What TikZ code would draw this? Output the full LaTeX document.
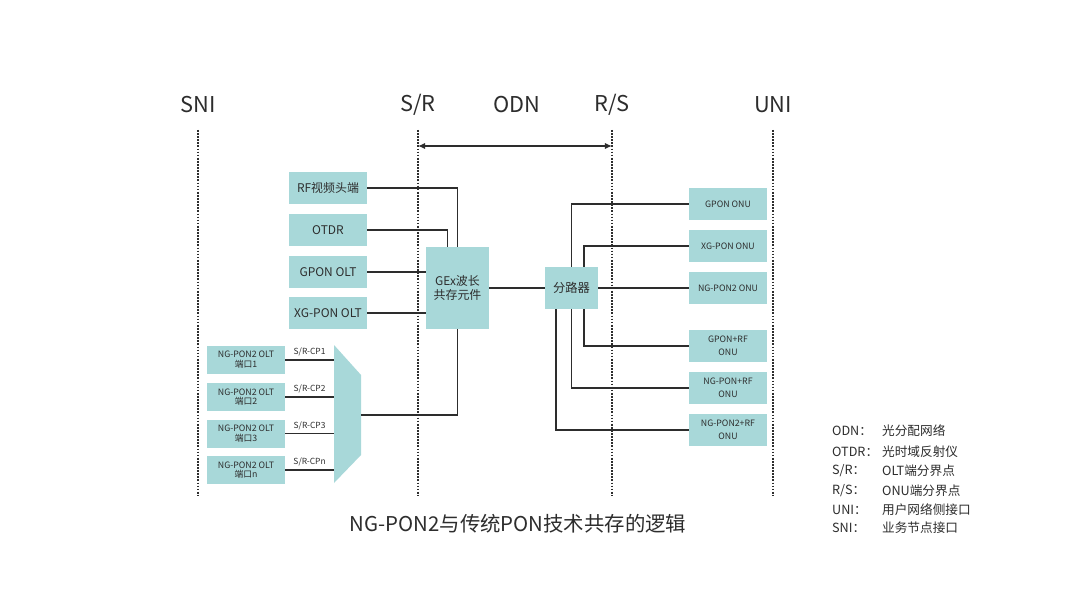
\documentclass[tikz,border=0pt]{standalone}
\usepackage{fontspec}
\setmainfont{Noto Sans CJK SC}
\usetikzlibrary{positioning,arrows.meta,calc}
\definecolor{boxteal}{RGB}{168,216,217}
\definecolor{inkgray}{RGB}{45,45,45}

\begin{document}
\begin{tikzpicture}[x=0.5mm,y=-0.5mm,>={Latex[length=10pt,width=9pt]},
  every node/.style={text=inkgray,inner sep=0pt},
  link/.style={draw=inkgray,line width=2.8pt},
  refline/.style={draw=inkgray,line width=2.4pt,dash pattern=on 2.4pt off 2pt},
  olt/.style={fill=boxteal,minimum width=39mm,minimum height=16mm,font=\fontsize{17}{20}\selectfont},
  port/.style={fill=boxteal,minimum width=39mm,minimum height=14mm,align=center,font=\fontsize{12.5}{14}\selectfont},
  onu/.style={fill=boxteal,minimum width=39mm,minimum height=16mm,align=center,font=\fontsize{12.5}{18}\selectfont},
  hdr/.style={font=\fontsize{31}{36}\selectfont},
  cplabel/.style={font=\fontsize{12}{14}\selectfont},
  legend/.style={anchor=west,font=\fontsize{18}{20}\selectfont}]
  \fill[white] (0,0) rectangle (1080,608);
  \useasboundingbox (0,0) rectangle (1080,608);
  % reference points
  \node[hdr] (sni) at (198,105) {SNI};
  \node[hdr] (sr) at (418,105) {S/R};
  \node[hdr] (odn) at (517,105) {ODN};
  \node[hdr] (rs) at (612,105) {R/S};
  \node[hdr] (uni) at (773,105) {UNI};
  \draw[refline] (198,130) -- (198,495);
  \draw[refline] (418,130) -- (418,495);
  \draw[refline] (612,130) -- (612,495);
  \draw[refline] (773,130) -- (773,495);
  \coordinate (odnl) at (418,146); \coordinate (odnr) at (612,146);
  \draw[link,<->] (odnl) -- (odnr);
  % OLT side
  \node[olt] (rfhead) at (328,188) {RF视频头端};
  \node[olt] (otdr) at (328,230) {OTDR};
  \node[olt] (gpon) at (328,272) {GPON OLT};
  \node[olt] (xgpon) at (328,313) {XG-PON OLT};
  \node[fill=boxteal,minimum width=31.5mm,minimum height=41mm,align=center,
        font=\fontsize{17}{21}\selectfont] (gex) at (457.5,288) {GEx波长\\共存元件};
  \draw[link] (rfhead.east) -| (gex.north);
  \draw[link] (otdr.east) -| ($(gex.north)+(-10,0)$);
  \draw[link] (gpon.east) -- (gpon.east -| gex.west);
  \draw[link] (xgpon.east) -- (xgpon.east -| gex.west);
  % NG-PON2 ports and mux
  \node[port] (ng1) at (246,360) {NG-PON2 OLT\\端口1};
  \node[port] (ng2) at (246,397) {NG-PON2 OLT\\端口2};
  \node[port] (ng3) at (246,433.5) {NG-PON2 OLT\\端口3};
  \node[port] (ngn) at (246,470) {NG-PON2 OLT\\端口n};
  \fill[boxteal] (334,345) -- (361,375) -- (361,455) -- (334,483) -- cycle;
  \coordinate (muxin) at (334,415); \coordinate (muxout) at (361,415);
  \draw[link] (ng1.east) -- (ng1.east -| muxin) node[cplabel,midway,above=1.3mm] {S/R-CP1};
  \draw[link] (ng2.east) -- (ng2.east -| muxin) node[cplabel,midway,above=1.3mm] {S/R-CP2};
  \draw[link] (ng3.east) -- (ng3.east -| muxin) node[cplabel,midway,above=1.3mm] {S/R-CP3};
  \draw[link] (ngn.east) -- (ngn.east -| muxin) node[cplabel,midway,above=1.3mm] {S/R-CPn};
  \draw[link] (gex.south) |- (muxout);
  % splitter and ONUs
  \node[fill=boxteal,minimum width=26.5mm,minimum height=21mm,
        font=\fontsize{17.5}{20}\selectfont] (split) at (571.5,288) {分路器};
  \draw[link] (gex.east) -- (split.west);
  \node[onu] (onu1) at (728,204) {GPON ONU};
  \node[onu] (onu2) at (728,246) {XG-PON ONU};
  \node[onu] (onu3) at (728,288) {NG-PON2 ONU};
  \node[onu] (onu4) at (728,346) {GPON+RF\\ONU};
  \node[onu] (onu5) at (728,388) {NG-PON+RF\\ONU};
  \node[onu] (onu6) at (728,430) {NG-PON2+RF\\ONU};
  \draw[link] (split.north) |- (onu1.west);
  \draw[link] ($(split.north)+(12.5,0)$) |- (onu2.west);
  \draw[link] (split.east) -- (onu3.west);
  \draw[link] ($(split.south)+(12.5,0)$) |- (onu4.west);
  \draw[link] (split.south) |- (onu5.west);
  \draw[link] ($(split.south)+(-15.5,0)$) |- (onu6.west);
  % caption and legend
  \node[font=\fontsize{29}{34}\selectfont] (title) at (518,524) {NG-PON2与传统PON技术共存的逻辑};
  \node[legend] (k1) at (832,431) {ODN：};   \node[legend] (v1) at (882,431) {光分配网络};
  \node[legend] (k2) at (832,452) {OTDR：};  \node[legend] (v2) at (882,452) {光时域反射仪};
  \node[legend] (k3) at (832,471) {S/R：};   \node[legend] (v3) at (882,471) {OLT端分界点};
  \node[legend] (k4) at (832,491) {R/S：};   \node[legend] (v4) at (882,491) {ONU端分界点};
  \node[legend] (k5) at (832,510) {UNI：};   \node[legend] (v5) at (882,510) {用户网络侧接口};
  \node[legend] (k6) at (832,528) {SNI：};   \node[legend] (v6) at (882,528) {业务节点接口};
\end{tikzpicture}
\end{document}
